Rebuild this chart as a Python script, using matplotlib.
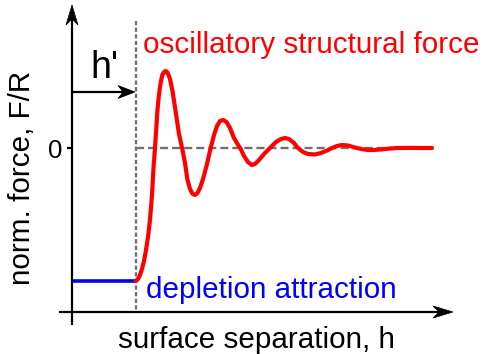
import numpy as np
import matplotlib
matplotlib.use("Agg")
import matplotlib.pyplot as plt
from matplotlib.patches import Polygon
from matplotlib import transforms

# ---- data (arbitrary units; schematic force curve) ----
h_prime = 64
depletion_level = -133
h_vals = [64, 66, 68, 70, 72, 74, 76, 78, 80, 81.5, 83, 84.3, 85.3, 86.5, 87.7,
          89, 90.3, 92, 93.7, 95.5, 98, 100.5, 103.7, 107, 110.3, 113, 115.3,
          118, 120.3, 123, 125.5, 128, 131, 134.5, 138.7, 142, 145, 148, 151.3,
          154.5, 158, 162, 165.5, 168.7, 172, 176, 179.7, 183, 187, 192, 198,
          204, 209, 213, 217, 222, 226, 231, 236, 243, 249, 255, 260, 265, 270,
          276, 281, 285, 290, 296, 302, 308, 315, 325, 338, 350, 360]
F_vals = [-133, -131, -127, -121, -113, -102, -89, -72, -47, -20, 0, 20, 36, 49,
          59, 67, 73, 76, 77, 75.5, 69, 57, 36, 14, -1, -15, -31, -41, -45.5,
          -47, -45, -40, -31, -18, 0, 13, 22, 27, 28, 26, 20, 10, 4, -1, -8,
          -14, -17, -16, -12, -6, 0, 6, 9, 10, 9, 5, 0, -4, -6, -6.5, -5, -2.5,
          0, 2, 3, 2.5, 1, 0, -1.2, -2, -2, -1.5, -0.8, 0, 0.1, 0, 0]
zero_line_end = 360

label_osc = "oscillatory structural force"
label_dep = "depletion attraction"
xlabel = "surface separation, h"
ylabel = "norm. force, F/R"
hlabel = "h'"
zero_label = "0"

plt.rcParams['font.family'] = ['Liberation Sans', 'DejaVu Sans']

fig = plt.figure(figsize=(4.83, 3.54), dpi=100)
ax = fig.add_axes([0, 0, 1, 1])
ax.set_xlim(-72, 411)
ax.set_ylim(-206, 148)
ax.axis('off')

gray = '#707070'
fs = 21.3


def arrowhead(tip, angle_deg, L=19, W=12, notch=0.3, color='black'):
    # vertices in pixels (pointing along +x), converted to inches
    pts = np.array([[0, 0], [-L, W / 2], [-L * (1 - notch), 0], [-L, -W / 2]], float)
    a = np.deg2rad(angle_deg)
    R = np.array([[np.cos(a), -np.sin(a)], [np.sin(a), np.cos(a)]])
    pts = pts @ R.T / 100.0
    tr = fig.dpi_scale_trans + transforms.ScaledTranslation(tip[0], tip[1], ax.transData)
    ax.add_patch(Polygon(pts, closed=True, facecolor=color, edgecolor=color,
                         lw=0.5, transform=tr, zorder=5))


# axes
ax.plot([0, 0], [-177, 130], color='black', lw=1.6, solid_capstyle='butt', zorder=4)
arrowhead((0, 143), 90, L=20, W=12)
ax.plot([-13, 370], [-164, -164], color='black', lw=1.6, solid_capstyle='butt', zorder=4)
arrowhead((381, -164), 0, L=20, W=12)
# zero tick
ax.plot([-5, 0], [0, 0], color='black', lw=1.6, solid_capstyle='butt')

# dashed guide lines
ax.plot([h_prime, h_prime], [127, -162], color=gray, lw=1.7, dashes=(1.8, 1.0), zorder=2)
ax.plot([h_prime, zero_line_end], [0, 0], color=gray, lw=1.7, dashes=(3.4, 1.7), zorder=2)

# h' arrow
ax.plot([0, h_prime - 10], [56, 56], color='black', lw=1.6, solid_capstyle='butt', zorder=4)
arrowhead((h_prime - 1, 56), 0, L=17, W=13)

# curves
ax.plot([0, h_prime], [depletion_level, depletion_level], color='#0000ff', lw=2.6,
        solid_capstyle='butt', zorder=3)
ax.plot(h_vals, F_vals, color='#ff0000', lw=3.0, solid_capstyle='round',
        solid_joinstyle='round', zorder=3)

# texts
ax.text(71, 95, label_osc, color='#ff0000', fontsize=fs, ha='left', va='baseline')
ax.text(74, -150, label_dep, color='#0000ff', fontsize=fs, ha='left', va='baseline')
ax.text(184, -200, xlabel, color='black', fontsize=fs, ha='center', va='baseline')
ax.text(-42, -29.5, ylabel, color='black', fontsize=fs, ha='center', va='baseline',
        rotation=90, rotation_mode='anchor')
ax.text(18, 70, hlabel, color='black', fontsize=27, ha='left', va='baseline')
ax.text(-17, -10, zero_label, color='black', fontsize=18.5, ha='center', va='baseline')

fig.savefig('out.png', dpi=100)
